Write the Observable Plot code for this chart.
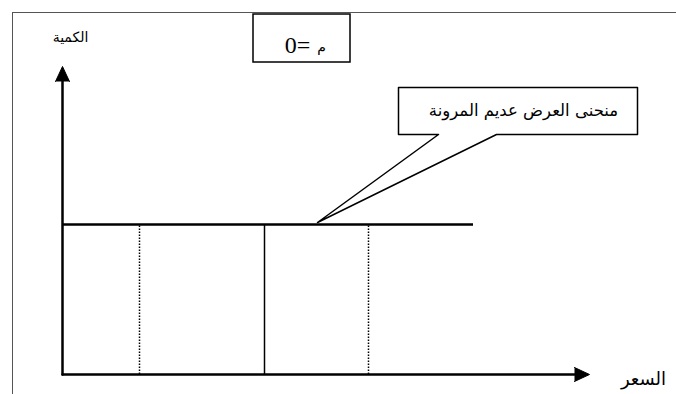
<!DOCTYPE html>
<html><head><meta charset="utf-8">
<script src="https://cdn.jsdelivr.net/npm/d3@7"></script>
<script src="https://cdn.jsdelivr.net/npm/@observablehq/plot@0.6"></script>
<style>body{margin:0;background:#fff;overflow:hidden}</style>
</head><body><div id="chart"></div>
<script>
// Labels
const quantityLabel = "الكمية";
const priceLabel = "السعر";
const elasticityLetter = "م";
const elasticityValue = "0=";
const curveLabel = "منحنى العرض عديم المرونة";

// Data (diagram units, origin at the axes' corner)
const supplyQuantity = [150];            // perfectly inelastic supply: fixed quantity
const supplyPriceExtent = [0, 411];      // price range the supply line covers
const solidPrices = [202];
const dottedPrices = [77, 306];
const priceAxisMax = 527;
const quantityAxisMax = 308;
const arrowLength = 15;
const arrowHalf = 7;

// Annotations (diagram units)
const calloutShape = [
  [336, 287], [575, 287], [575, 240], [434, 240], [255, 152], [376, 240], [336, 240], [336, 287]
];
const elasticityBox = {x1: 191, x2: 288, y1: 312, y2: 360};
const frameLeft = [[-50, 362], [-50, -20]];
const frameTop = [[-50, 362], [620, 362]];

const yArrow = [[-arrowHalf, quantityAxisMax - arrowLength], [0, quantityAxisMax], [arrowHalf, quantityAxisMax - arrowLength]];
const xArrow = [[priceAxisMax - arrowLength, arrowHalf], [priceAxisMax, 0], [priceAxisMax - arrowLength, -arrowHalf]];

const font = "'DejaVu Sans', Arial, sans-serif";

const chart = Plot.plot({
  width: 676,
  height: 394,
  margin: 0,
  x: {domain: [-62, 614], range: [0, 676], axis: null},
  y: {domain: [-20, 374], range: [394, 0], axis: null},
  style: {background: "white"},
  marks: [
    // outer frame (page border)
    Plot.line(frameLeft, {x: d => d[0], y: d => d[1], stroke: "#555", strokeWidth: 1}),
    Plot.line(frameTop, {x: d => d[0], y: d => d[1], stroke: "#555", strokeWidth: 1}),
    // elasticity box
    Plot.rect([elasticityBox], {x1: "x1", x2: "x2", y1: "y1", y2: "y2", fill: "white", stroke: "black", strokeWidth: 1.5}),
    Plot.text([elasticityValue], {x: 235, y: 329, text: d => d, fontSize: 24, fontFamily: "'Liberation Serif', 'Times New Roman', serif", fill: "black", textAnchor: "middle"}),
    Plot.text([elasticityLetter], {x: 259, y: 327, text: d => d, fontSize: 14, fontFamily: font, fill: "black", textAnchor: "middle"}),
    // axes
    Plot.line([[0, 0], [0, quantityAxisMax - arrowLength]], {x: d => d[0], y: d => d[1], stroke: "black", strokeWidth: 2.5}),
    Plot.line([[0, 0], [priceAxisMax - arrowLength, 0]], {x: d => d[0], y: d => d[1], stroke: "black", strokeWidth: 2.5}),
    Plot.line(yArrow, {x: d => d[0], y: d => d[1], fill: "black", stroke: "black", strokeWidth: 1}),
    Plot.line(xArrow, {x: d => d[0], y: d => d[1], fill: "black", stroke: "black", strokeWidth: 1}),
    Plot.text([quantityLabel], {x: 8, y: 337, text: d => d, fontSize: 14, fontFamily: font, fill: "black"}),
    Plot.text([priceLabel], {x: 581, y: -5, text: d => d, fontSize: 18, fontFamily: font, fill: "black"}),
    // verticals
    Plot.ruleX(dottedPrices, {x: d => d, y1: 0, y2: supplyQuantity[0], stroke: "black", strokeWidth: 1.5, strokeDasharray: "1.5,1.5"}),
    Plot.ruleX(solidPrices, {x: d => d, y1: 0, y2: supplyQuantity[0], stroke: "black", strokeWidth: 1.5}),
    // inelastic supply curve
    Plot.ruleY(supplyQuantity, {y: d => d, x1: supplyPriceExtent[0], x2: supplyPriceExtent[1], stroke: "black", strokeWidth: 2.5}),
    // callout
    Plot.line(calloutShape, {x: d => d[0], y: d => d[1], fill: "white", stroke: "black", strokeWidth: 1.5}),
    Plot.text([curveLabel], {x: 461, y: 264, text: d => d, fontSize: 16.5, fontFamily: font, fill: "black"})
  ]
});
document.getElementById("chart").append(chart);
</script>
</body></html>
